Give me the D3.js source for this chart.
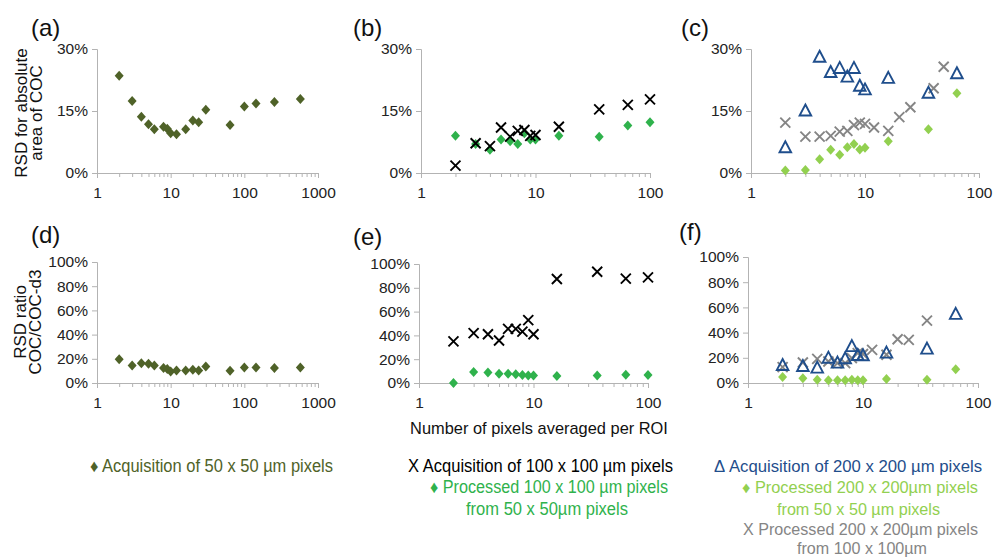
<!DOCTYPE html>
<html lang="en">
<head>
<meta charset="UTF-8">
<title>RSD vs number of pixels averaged per ROI</title>
<script src="https://d3js.org/d3.v7.min.js"></script>
<style>
  body { margin: 0; background: #fff; }
  svg { display: block; font-family: "Liberation Sans", Arial, sans-serif; }
</style>
</head>
<body>
<svg id="chart" width="993" height="557"></svg>
<script>
// values (y in %)
const x50 = [2, 3, 4, 5, 6, 8, 9, 10, 12, 16, 20, 24, 30, 64, 100, 144, 256, 576];
const rsd50 = [23.5, 17.4, 13.6, 11.8, 10.6, 11.2, 10.7, 9.6, 9.4, 10.6, 12.7, 12.3, 15.3, 11.6, 16.1, 16.8, 17.2, 17.9];
const ratio50 = [19.7, 14.5, 16.4, 15.9, 14.5, 12.3, 11.5, 9.6, 10.4, 10.4, 11.0, 10.4, 13.7, 10.1, 12.8, 12.8, 12.3, 12.8];

const x100 = [2, 3, 4, 5, 6, 7, 8, 9, 10, 16, 36, 64, 100];
const rsd100Acq = [1.8, 7.2, 6.5, 11.0, 8.8, 10.2, 10.4, 9.0, 9.2, 11.2, 15.4, 16.5, 17.8];
const rsd100Proc = [9.0, 7.0, 5.6, 8.1, 7.7, 7.0, 9.6, 8.1, 8.1, 9.0, 8.8, 11.5, 12.3];
const ratio100Acq = [35.0, 41.9, 41.0, 35.7, 45.5, 45.5, 43.2, 52.9, 41.0, 87.4, 93.5, 87.7, 88.8];
const ratio100Proc = [0.0, 9.2, 8.9, 7.8, 7.8, 7.3, 6.7, 6.4, 6.2, 5.9, 6.2, 7.0, 6.7];

const x200 = [2, 3, 4, 5, 6, 7, 8, 9, 10, 16, 36, 64];
const rsd200Acq = [6.1, 15.0, 28.0, 24.3, 25.3, 23.2, 25.3, 21.0, 20.1, 22.9, 19.3, 24.0];
const rsd200From50 = [0.6, 0.7, 3.3, 5.6, 4.4, 6.2, 7.0, 5.7, 6.1, 7.7, 10.6, 19.3];
const ratio200Acq = [13.9, 13.1, 11.8, 19.7, 15.8, 19.2, 28.9, 21.8, 21.6, 23.7, 26.9, 54.5];
const ratio200From50 = [4.7, 3.7, 2.6, 2.1, 2.1, 2.1, 2.6, 2.1, 2.1, 3.1, 2.6, 11.0];

const x200From100c = [2, 3, 4, 5, 6, 7, 8, 9, 10, 12, 16, 20, 25, 40, 49];
const rsd200From100 = [12.2, 8.8, 8.8, 9.0, 10.0, 10.2, 11.6, 12.2, 11.9, 11.0, 10.2, 13.5, 15.9, 20.5, 25.7];
const x200From100f = [2, 3, 4, 5, 6, 7, 8, 9, 10, 12, 16, 20, 25, 36];
const ratio200From100 = [12.6, 16.3, 19.2, 17.1, 15.8, 15.8, 19.7, 23.7, 23.0, 26.3, 22.4, 34.7, 34.2, 49.5];

const panelLabels = ["(a)", "(b)", "(c)", "(d)", "(e)", "(f)"];
const yTicksRsd = [0, 15, 30];
const yTicksRatio = [0, 20, 40, 60, 80, 100];
const xTicks1000 = [1, 10, 100, 1000];
const xTicks100 = [1, 10, 100];
const xTitle = "Number of pixels averaged per ROI";

const C = {
  olive: "#4f6228", green: "#2fb24c", lime: "#92d050",
  blue: "#1f4e8c", grey: "#858585", black: "#000"
};

const svg = d3.select("#chart");
svg.append("rect").attr("width", 993).attr("height", 557).attr("fill", "#fff");

const zip = (xs, ys) => xs.map((x, i) => ({ x, y: ys[i] }));

function panel(cfg) {
  const xs = d3.scaleLog().domain([1, cfg.xMax]).range([cfg.x0, cfg.x1]);
  const ys = d3.scaleLinear().domain([0, cfg.yMax]).range([cfg.y0, cfg.y1]);
  const g = svg.append("g");

  // minor log ticks
  const minors = [];
  for (let d = 1; d < cfg.xMax; d *= 10)
    for (let k = 2; k <= 9; k++) minors.push(d * k);
  g.append("g").attr("transform", `translate(0,${cfg.y0})`)
    .call(d3.axisBottom(xs).tickValues(minors).tickSize(4).tickFormat(""))
    .call(a => a.select(".domain").remove());

  g.append("g").attr("transform", `translate(0,${cfg.y0})`)
    .call(d3.axisBottom(xs).tickValues(cfg.xTicks).tickSize(5).tickPadding(9).tickFormat(d3.format("")));

  g.append("g").attr("transform", `translate(${cfg.x0},0)`)
    .call(d3.axisLeft(ys).tickValues(cfg.yTicks).tickSize(5).tickPadding(4).tickFormat(d => d + "%"));

  g.selectAll(".domain, .tick line").attr("stroke", "#b3b3b3");
  g.selectAll(".tick text").attr("font-size", 15.5).attr("fill", "#222")
    .attr("font-family", '"Liberation Sans", Arial, sans-serif');

  g.append("text").attr("x", cfg.lx).attr("y", cfg.ly)
    .attr("font-size", 24).attr("fill", "#111").text(cfg.label);

  cfg.series.forEach(s => {
    const pts = g.append("g").selectAll("g").data(zip(s.x, s.y)).join("g")
      .attr("transform", d => `translate(${xs(d.x)},${ys(d.y)})`);
    if (s.shape === "diamond") {
      pts.append("path").attr("d", "M0,-5L4.5,0L0,5L-4.5,0Z").attr("fill", s.color);
    } else if (s.shape === "cross") {
      pts.append("path").attr("d", "M-5,-5L5,5M-5,5L5,-5")
        .attr("stroke", s.color).attr("stroke-width", 1.9).attr("fill", "none");
    } else {
      pts.append("path").attr("d", "M0,-6.5L5.8,4.5L-5.8,4.5Z")
        .attr("stroke", s.color).attr("stroke-width", 1.9).attr("fill", "none");
    }
  });
}

panel({ label: panelLabels[0], lx: 31, ly: 36, x0: 97, x1: 318, y0: 173, y1: 49,
  xMax: 1000, yMax: 30, xTicks: xTicks1000, yTicks: yTicksRsd,
  series: [{ x: x50, y: rsd50, shape: "diamond", color: C.olive }] });
panel({ label: panelLabels[1], lx: 353, ly: 36, x0: 421, x1: 650, y0: 173, y1: 49,
  xMax: 100, yMax: 30, xTicks: xTicks100, yTicks: yTicksRsd,
  series: [{ x: x100, y: rsd100Proc, shape: "diamond", color: C.green },
           { x: x100, y: rsd100Acq, shape: "cross", color: C.black }] });
panel({ label: panelLabels[2], lx: 681, ly: 36, x0: 751, x1: 979, y0: 173, y1: 49,
  xMax: 100, yMax: 30, xTicks: xTicks100, yTicks: yTicksRsd,
  series: [{ x: x200From100c, y: rsd200From100, shape: "cross", color: C.grey },
           { x: x200, y: rsd200From50, shape: "diamond", color: C.lime },
           { x: x200, y: rsd200Acq, shape: "triangle", color: C.blue }] });
panel({ label: panelLabels[3], lx: 31, ly: 243, x0: 97, x1: 318, y0: 383, y1: 262,
  xMax: 1000, yMax: 100, xTicks: xTicks1000, yTicks: yTicksRatio,
  series: [{ x: x50, y: ratio50, shape: "diamond", color: C.olive }] });
panel({ label: panelLabels[4], lx: 353, ly: 245, x0: 419, x1: 648, y0: 383, y1: 264,
  xMax: 100, yMax: 100, xTicks: xTicks100, yTicks: yTicksRatio,
  series: [{ x: x100, y: ratio100Proc, shape: "diamond", color: C.green },
           { x: x100, y: ratio100Acq, shape: "cross", color: C.black }] });
panel({ label: panelLabels[5], lx: 679, ly: 240, x0: 748, x1: 978, y0: 383, y1: 257,
  xMax: 100, yMax: 100, xTicks: xTicks100, yTicks: yTicksRatio,
  series: [{ x: x200From100f, y: ratio200From100, shape: "cross", color: C.grey },
           { x: x200, y: ratio200From50, shape: "diamond", color: C.lime },
           { x: x200, y: ratio200Acq, shape: "triangle", color: C.blue }] });

// y axis titles
function yTitle(lines, x, y) {
  lines.forEach((t, i) => {
    svg.append("text").attr("transform", `translate(${x + i * 15},${y}) rotate(-90)`)
      .attr("text-anchor", "middle").attr("font-size", 17).attr("fill", "#111").text(t);
  });
}
yTitle(["RSD for absolute", "area of COC"], 27, 113);
yTitle(["RSD ratio", "COC/COC-d3"], 26, 322);

svg.append("text").attr("x", 539).attr("y", 434).attr("text-anchor", "middle")
  .attr("font-size", 16.4).attr("fill", "#111").text(xTitle);

// legends
const legendRows = [
  { t: "\u2666 Acquisition of 50 x 50 \u00b5m pixels", c: C.olive, x: 90, y: 472, w: 243, fs: 17.5 },
  { t: "X Acquisition of 100 x 100 \u00b5m pixels", c: C.black, x: 408, y: 472, w: 265, fs: 17.5 },
  { t: "\u2666 Processed 100 x 100 \u00b5m pixels", c: C.green, x: 430, y: 493, w: 238, fs: 17.5 },
  { t: "from 50 x 50\u00b5m pixels", c: C.green, x: 466, y: 515, w: 162, fs: 17.5 },
  { t: "\u0394 Acquisition of 200 x 200  \u00b5m pixels", c: C.blue, x: 714, y: 472, w: 268, fs: 16 },
  { t: "\u2666  Processed 200 x 200\u00b5m pixels", c: C.lime, x: 742, y: 493, w: 236, fs: 16 },
  { t: "from 50 x 50 \u00b5m pixels", c: C.lime, x: 777, y: 515, w: 163, fs: 16 },
  { t: "X Processed 200 x 200\u00b5m pixels", c: C.grey, x: 743, y: 535, w: 235, fs: 16 },
  { t: "from 100 x 100\u00b5m", c: C.grey, x: 797, y: 554, w: 130, fs: 16 }
];
svg.append("g").selectAll("text").data(legendRows).join("text")
  .attr("x", d => d.x).attr("y", d => d.y).attr("font-size", d => d.fs)
  .attr("fill", d => d.c).attr("textLength", d => d.w)
  .attr("lengthAdjust", "spacingAndGlyphs").text(d => d.t);
</script>
</body>
</html>
